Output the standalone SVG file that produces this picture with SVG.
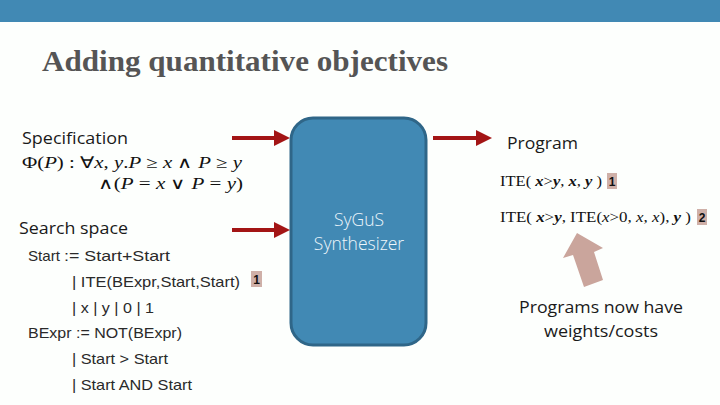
<svg xmlns="http://www.w3.org/2000/svg" width="720" height="405" viewBox="0 0 720 405">
<defs>
<style>
.cal{font-family:"Open Sans","Noto Sans",sans-serif;font-size:17px;fill:#1a1a1a}
.gr{font-family:"Liberation Sans",Arial,sans-serif;font-size:15px;fill:#2a2a2a}
.math{font-family:"Liberation Serif","Times New Roman",serif;font-size:16px;fill:#111}
.ite{font-family:"Liberation Serif","Times New Roman",serif;font-size:15px;fill:#111}
.badge{fill:#cfb0a8}
.bnum{font-family:"Liberation Sans",Arial,sans-serif;font-size:12px;font-weight:bold;fill:#111}
.arr{stroke:#a31515;stroke-width:4;fill:none}
.syn{font-family:"Open Sans","Noto Sans",sans-serif;font-weight:300;font-size:17.5px;fill:#eef6fb}
</style>
<marker id="ah" markerWidth="4" markerHeight="4" refX="1" refY="2" orient="auto" markerUnits="strokeWidth" viewBox="0 0 4 4">
<path d="M0,0 L4,2 L0,4 Z" fill="#a31515"/>
</marker>
</defs>
<rect width="720" height="405" fill="#fdfffd"/>
<rect x="0" y="0" width="720" height="22" fill="#4189b4"/>
<text x="42" y="71" font-family="Liberation Serif,'Times New Roman',serif" font-size="29" font-weight="bold" fill="#555" textLength="406" lengthAdjust="spacingAndGlyphs">Adding quantitative objectives</text>

<g id="spec">
<text class="cal" x="22" y="144" textLength="106" lengthAdjust="spacingAndGlyphs">Specification</text>
<text class="math" x="22" y="168" textLength="220" lengthAdjust="spacingAndGlyphs">Φ(<tspan font-style="italic">P</tspan>) : ∀<tspan font-style="italic">x</tspan>, <tspan font-style="italic">y</tspan>.<tspan font-style="italic">P</tspan> ≥ <tspan font-style="italic">x</tspan> ∧ <tspan font-style="italic">P</tspan> ≥ <tspan font-style="italic">y</tspan></text>
<text class="math" x="98" y="189" textLength="145" lengthAdjust="spacingAndGlyphs">∧(<tspan font-style="italic">P</tspan> = <tspan font-style="italic">x</tspan> ∨ <tspan font-style="italic">P</tspan> = <tspan font-style="italic">y</tspan>)</text>
</g>

<g id="search">
<text class="cal" x="19" y="234" textLength="109" lengthAdjust="spacingAndGlyphs">Search space</text>
<text class="gr" x="28" y="261" textLength="32" lengthAdjust="spacingAndGlyphs">Start</text>
<text class="gr" x="64" y="261" textLength="106" lengthAdjust="spacingAndGlyphs">:= Start+Start</text>
<text class="gr" x="72" y="287" textLength="168" lengthAdjust="spacingAndGlyphs">| ITE(BExpr,Start,Start)</text>
<rect class="badge" x="251" y="271" width="11" height="16"/>
<text class="bnum" x="256.5" y="284" text-anchor="middle">1</text>
<text class="gr" x="72" y="313" textLength="82" lengthAdjust="spacingAndGlyphs">| x | y | 0 | 1</text>
<text class="gr" x="28" y="338" textLength="154" lengthAdjust="spacingAndGlyphs">BExpr := NOT(BExpr)</text>
<text class="gr" x="72" y="364" textLength="96" lengthAdjust="spacingAndGlyphs">| Start &gt; Start</text>
<text class="gr" x="72" y="390" textLength="120" lengthAdjust="spacingAndGlyphs">| Start AND Start</text>
</g>

<g id="synth">
<rect x="291" y="118" width="135" height="227" rx="22" ry="22" fill="#4189b4" stroke="#2f6688" stroke-width="3"/>
<text class="syn" x="359" y="226" text-anchor="middle">SyGuS</text>
<text class="syn" x="359" y="250" text-anchor="middle">Synthesizer</text>
</g>

<g id="program">
<text class="cal" x="507" y="149" textLength="71" lengthAdjust="spacingAndGlyphs">Program</text>
<text class="ite" x="500" y="186" textLength="102" lengthAdjust="spacingAndGlyphs">ITE( <tspan font-style="italic" font-weight="bold">x</tspan>&gt;<tspan font-style="italic" font-weight="bold">y</tspan>, <tspan font-style="italic" font-weight="bold">x</tspan>, <tspan font-style="italic" font-weight="bold">y</tspan> )</text>
<rect class="badge" x="607" y="173" width="10" height="16"/>
<text class="bnum" x="612" y="186" text-anchor="middle">1</text>
<text class="ite" x="500" y="222" textLength="191" lengthAdjust="spacingAndGlyphs">ITE( <tspan font-style="italic" font-weight="bold">x</tspan>&gt;<tspan font-style="italic" font-weight="bold">y</tspan>, ITE(<tspan font-style="italic">x</tspan>&gt;0, <tspan font-style="italic">x</tspan>, <tspan font-style="italic">x</tspan>), <tspan font-style="italic" font-weight="bold">y</tspan> )</text>
<rect class="badge" x="697" y="209" width="10" height="16"/>
<text class="bnum" x="702" y="222" text-anchor="middle">2</text>
</g>

<g id="note">
<polygon points="577,233 603,248 594,252 603,280 584,287 573,255 563,258" fill="#caa59c"/>
<text class="cal" x="601" y="313" text-anchor="middle" textLength="164" lengthAdjust="spacingAndGlyphs">Programs now have</text>
<text class="cal" x="601" y="337" text-anchor="middle" textLength="114" lengthAdjust="spacingAndGlyphs">weights/costs</text>
</g>

<g id="connectors">
<line class="arr" x1="232" y1="138" x2="278" y2="138" marker-end="url(#ah)"/>
<line class="arr" x1="232" y1="230" x2="278" y2="230" marker-end="url(#ah)"/>
<line class="arr" x1="433" y1="138" x2="480" y2="138" marker-end="url(#ah)"/>
</g>
</svg>
